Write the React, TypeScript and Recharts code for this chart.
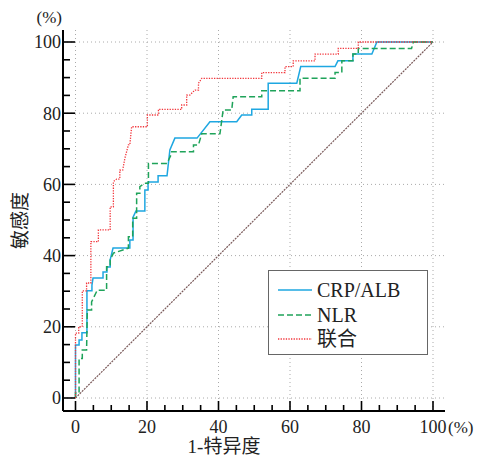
import { LineChart, Line, XAxis, YAxis, ReferenceLine, Legend } from 'recharts'

// ROC curves, values in percent: [1 - specificity, sensitivity]
const crpAlb: [number, number][] = [
  [0, 0], [0, 14.9], [1.0, 14.9], [1.0, 16.3], [1.8, 16.3], [1.8, 18.3], [3.2, 18.3], [3.2, 30.1],
  [4.6, 30.1], [4.6, 31.7], [4.9, 33.7], [7.7, 33.7], [7.7, 35.4], [8.8, 35.4], [8.8, 36.8], [9.7, 36.8],
  [9.7, 38.8], [10.5, 42.1], [15.2, 42.1], [15.2, 44.4], [16.1, 44.4], [16.1, 50.8], [16.9, 52.5],
  [19.4, 52.5], [19.4, 58.4], [20.3, 58.4], [20.3, 60.7], [23.1, 60.7], [23.1, 62.4], [25.6, 62.4],
  [26.4, 69.7], [27.8, 73.0], [34.0, 73.0], [37.6, 77.6], [45.1, 77.6], [46.5, 79.5], [49.3, 79.5],
  [49.3, 81.1], [53.9, 81.1], [53.9, 88.4], [61.9, 88.4], [63.0, 93.1], [72.6, 93.1], [73.4, 94.7],
  [77.6, 94.7], [77.6, 96.6], [82.9, 96.6], [84.3, 100], [100, 100],
]

const nlr: [number, number][] = [
  [0, 0], [0, 1.4], [1.0, 1.4], [1.0, 11.1], [1.9, 11.1], [1.9, 13.5], [3.1, 13.5], [3.3, 24.7],
  [4.5, 24.7], [4.5, 27.0], [6.1, 30.3], [8.7, 30.3], [8.7, 36.9], [9.7, 36.9], [9.7, 38.8],
  [10.6, 40.7], [14.8, 42.1], [14.8, 45.3], [16.0, 45.3], [16.0, 50.5], [17.1, 50.5], [17.1, 57.5],
  [18.0, 57.5], [18.0, 59.4], [19.4, 60.3], [20.4, 60.3], [20.4, 65.9], [25.6, 65.9], [26.9, 68.7],
  [26.9, 69.2], [33.0, 69.2], [33.0, 71.1], [34.4, 71.1], [35.3, 74.2], [40.4, 74.2], [41.3, 80.9],
  [43.7, 80.9], [44.1, 84.6], [52.1, 84.6], [52.1, 86.3], [62.8, 86.3], [62.8, 89.8], [72.6, 89.8],
  [72.6, 91.4], [74.5, 91.4], [74.5, 94.7], [77.6, 94.7], [77.6, 96.6], [79.1, 96.6], [79.1, 98.2],
  [94.0, 98.2], [94.5, 100], [100, 100],
]

const combined: [number, number][] = [
  [0, 0], [0, 18.2], [0.9, 18.2], [0.9, 20.0], [1.9, 20.0], [1.9, 30.1], [3.1, 30.1], [3.1, 32.3],
  [4.3, 32.3], [4.3, 43.9], [6.4, 43.9], [6.4, 47.2], [9.7, 47.2], [9.7, 53.7], [10.6, 53.7],
  [10.6, 60.8], [11.5, 61.5], [12.4, 61.5], [12.4, 64.0], [13.2, 64.0], [13.8, 67.3], [14.8, 71.1],
  [15.2, 71.1], [15.7, 76.2], [20.1, 76.2], [20.1, 79.5], [23.2, 79.5], [23.2, 81.1], [29.7, 81.1],
  [29.7, 82.3], [31.1, 82.3], [31.1, 85.1], [32.0, 85.1], [33.4, 86.5], [34.4, 86.5], [34.4, 88.4],
  [35.3, 89.8], [52.1, 89.8], [52.1, 91.4], [58.6, 91.4], [58.6, 93.1], [60.9, 93.1], [60.9, 94.7],
  [67.0, 94.7], [67.0, 96.6], [73.5, 96.6], [73.5, 98.2], [79.1, 98.2], [79.1, 100], [100, 100],
]

const chanceLine: [number, number][] = [[0, 0], [100, 100]]

const axisTicks = [0, 5, 10, 15, 20, 25, 30, 35, 40, 45, 50, 55, 60, 65, 70, 75, 80, 85, 90, 95, 100]
const gridTicks = [0, 20, 40, 60, 80, 100]

const serif = '"Liberation Serif", "Times New Roman", "Noto Sans CJK SC", serif'
const txt = { fontFamily: serif }

const series = [
  { name: 'CRP/ALB', data: crpAlb, color: '#1ea7e1', dash: undefined as string | undefined, width: 1.5 },
  { name: 'NLR', data: nlr, color: '#1fa35a', dash: '6 3', width: 1.5 },
  { name: '联合', data: combined, color: '#f2363c', dash: '1.3 1.3', width: 1.3 },
]

const toPoints = (arr: [number, number][]) => arr.map(([x, y]) => ({ x, y }))

function XTick(props: any) {
  const { x, y, payload } = props
  const v = payload.value
  const major = v % 20 === 0
  return (
    <g>
      <line x1={x} x2={x} y1={y} y2={y - (major ? 10 : 6)} stroke="#000" strokeWidth={1.6} />
      {major && (
        <text x={x} y={y + 22} textAnchor="middle" fontSize={18} fill="#222" style={txt}>
          {v}
        </text>
      )}
      {v === 100 && (
        <text x={x + 15} y={y + 22} textAnchor="start" fontSize={17} fill="#222" style={txt}>
          (%)
        </text>
      )}
    </g>
  )
}

function YTick(props: any) {
  const { x, y, payload } = props
  const v = payload.value
  const major = v % 20 === 0
  return (
    <g>
      <line x1={x} x2={x + (major ? 12 : 7)} y1={y} y2={y} stroke="#000" strokeWidth={1.6} />
      {major && (
        <text x={x - 2} y={y} dy="0.35em" textAnchor="end" fontSize={18} fill="#222" style={txt}>
          {v}
        </text>
      )}
      {v === 100 && (
        <text x={x - 1} y={y - 25} dy="0.35em" textAnchor="end" fontSize={17} fill="#222" style={txt}>
          (%)
        </text>
      )}
    </g>
  )
}

function renderXLabel(props: any) {
  const vb = props.viewBox ?? { x: 63, y: 411, width: 382, height: 47 }
  return (
    <text x={vb.x + vb.width / 2 - 30} y={vb.y + vb.height - 5} textAnchor="middle" fontSize={19} fill="#222" style={txt}>
      1-特异度
    </text>
  )
}

function renderYLabel(props: any) {
  const vb = props.viewBox ?? { x: 0, y: 30, width: 63, height: 381 }
  const cx = vb.x + 20
  const cy = vb.y + vb.height / 2
  return (
    <text x={cx} y={cy} dy="0.35em" textAnchor="middle" transform={`rotate(-90 ${cx} ${cy})`} fontSize={19} fill="#222" style={txt}>
      敏感度
    </text>
  )
}

function LegendBox() {
  return (
    <div
      style={{
        width: 160,
        height: 85,
        boxSizing: 'border-box',
        border: '1.5px solid #666',
        background: '#fff',
        padding: '7px 0 0 9px',
        fontFamily: serif,
        fontSize: 20,
        color: '#222',
      }}
    >
      {series.map((s) => (
        <div key={s.name} style={{ display: 'flex', alignItems: 'center', height: 24.5 }}>
          <svg width={34} height={4} style={{ display: 'block' }}>
            <line x1={0} x2={34} y1={2} y2={2} stroke={s.color} strokeWidth={s.width} strokeDasharray={s.dash} />
          </svg>
          <span style={{ marginLeft: 5, lineHeight: 1 }}>{s.name}</span>
        </div>
      ))}
    </div>
  )
}

export default function App() {
  return (
    <div style={{ width: 479, height: 458, background: '#fff' }}>
      <style>{'body{margin:0}'}</style>
      <LineChart width={479} height={458} margin={{ top: 30, right: 34, left: 0, bottom: 0 }}>
        <XAxis
          type="number"
          dataKey="x"
          domain={[0, 100]}
          ticks={axisTicks}
          interval={0}
          tick={<XTick />}
          tickLine={false}
          tickSize={0}
          tickMargin={0}
          height={47}
          padding={{ left: 12.5, right: 12 }}
          axisLine={{ stroke: '#000', strokeWidth: 2 }}
          label={{ value: '1-特异度', content: renderXLabel }}
        />
        <YAxis
          type="number"
          dataKey="y"
          domain={[0, 100]}
          ticks={axisTicks}
          interval={0}
          tick={<YTick />}
          tickLine={false}
          tickSize={0}
          tickMargin={0}
          width={63}
          padding={{ top: 12, bottom: 13 }}
          axisLine={{ stroke: '#000', strokeWidth: 2 }}
          label={{ value: '敏感度', content: renderYLabel }}
        />
        {gridTicks.map((v) => (
          <ReferenceLine key={'gx' + v} x={v} stroke="#aaa" strokeDasharray="1 3" />
        ))}
        {gridTicks.map((v) => (
          <ReferenceLine key={'gy' + v} y={v} stroke="#aaa" strokeDasharray="1 3" />
        ))}
        <Line
          data={toPoints(chanceLine)}
          dataKey="y"
          type="linear"
          stroke="#7a5a5a"
          strokeWidth={1.2}
          strokeDasharray="2 1"
          dot={false}
          activeDot={false}
          legendType="none"
          isAnimationActive={false}
        />
        {series.map((s) => (
          <Line
            key={s.name}
            name={s.name}
            data={toPoints(s.data)}
            dataKey="y"
            type="linear"
            stroke={s.color}
            strokeWidth={s.width}
            strokeDasharray={s.dash}
            dot={false}
            activeDot={false}
            isAnimationActive={false}
          />
        ))}
        <Legend
          layout="horizontal"
          verticalAlign="middle"
          align="center"
          content={() => <LegendBox />}
          wrapperStyle={{ position: 'absolute', left: 268, top: 270, width: 160, height: 85 }}
        />
      </LineChart>
    </div>
  )
}
